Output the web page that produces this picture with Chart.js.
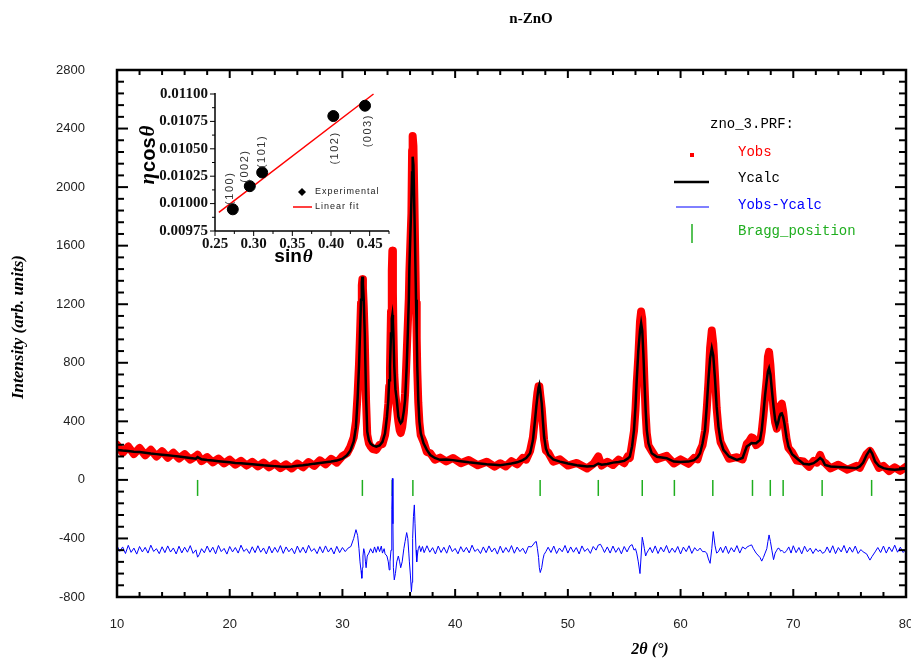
<!DOCTYPE html>
<html><head><meta charset="utf-8">
<script src="https://cdn.jsdelivr.net/npm/chart.js@4.4.0/dist/chart.umd.min.js"></script>
<style>
html,body{margin:0;padding:0;background:#fff;}
#wrap{position:relative;width:911px;height:659px;overflow:hidden;}
#main{position:absolute;left:0;top:0;}
#inset{position:absolute;left:130px;top:84px;}
</style></head><body>
<div id="wrap"><canvas id="main" width="911" height="659"></canvas><canvas id="inset" width="270" height="186"></canvas></div>
<script>
// ---------- main pattern data ----------
const twoTheta = [10,10.5,11,11.5,12,12.5,13,13.5,14,14.5,15,15.5,16,16.5,17,17.15,17.5,18,18.5,19,19.5,20,20.5,21,21.5,22,22.5,23,23.5,24,24.5,25,25.5,26,26.5,27,27.5,28,28.5,29,29.5,30,30.4,30.7,31.0,31.2,31.35,31.47,31.56,31.65,31.72,31.77,31.82,31.89,31.98,32.04,32.1,32.2,32.35,32.5,32.7,33.0,33.3,33.55,33.78,33.95,34.07,34.15,34.22,34.31,34.38,34.43,34.48,34.52,34.6,34.7,34.82,34.96,35.08,35.17,35.3,35.45,35.56,35.7,35.8,35.89,35.94,36.03,36.12,36.18,36.23,36.3,36.38,36.44,36.53,36.59,36.64,36.73,36.83,36.95,37.2,37.49,37.8,38.2,38.66,39.2,39.8,40.5,41.2,42,42.8,43.5,44,44.5,45,45.5,46,46.3,46.65,46.9,47.09,47.2,47.3,47.4,47.47,47.55,47.68,47.8,47.89,48.05,48.27,48.7,49.3,50,50.8,51.7,52.3,52.7,53.0,53.5,54,54.5,55,55.3,55.5,55.7,55.87,56.0,56.11,56.25,56.4,56.5,56.6,56.7,56.79,56.9,57.0,57.15,57.44,57.9,58.77,59.4,60,60.7,61.2,61.5,61.73,61.95,62.17,62.32,62.47,62.62,62.77,62.9,63.06,63.2,63.36,63.55,63.8,64.3,64.99,65.5,65.87,66.1,66.3,66.46,66.7,67.05,67.2,67.35,67.5,67.65,67.75,67.85,67.97,68.1,68.25,68.39,68.54,68.65,68.77,68.88,68.98,69.1,69.21,69.4,69.57,69.9,70.3,70.9,71.4,71.8,72.1,72.38,72.6,72.82,73.3,74,74.8,75.6,75.9,76.2,76.5,76.8,77.0,77.26,77.6,78.0,78.5,79,79.5,80];
const yObs = [240,185,228,176,218,168,206,160,196,152,186,146,176,138,162,172,128,156,120,146,112,138,104,130,98,124,92,118,86,112,80,106,78,112,86,122,96,134,106,144,118,162,182,225,290,400,590,790,990,1210,1330,1370,1310,1190,970,750,530,310,250,228,210,205,240,245,305,410,520,640,760,1150,1430,1565,1280,1030,720,580,500,400,340,320,360,460,590,860,1060,1240,1420,1620,1820,2250,2350,2280,1930,1640,1210,970,750,530,390,305,260,190,182,138,152,126,150,114,136,100,124,90,114,92,128,106,150,138,198,290,430,525,595,640,640,580,490,365,275,200,185,125,140,98,116,78,112,160,98,124,102,138,114,160,150,248,335,480,660,840,1080,1150,1100,885,680,455,320,235,198,142,164,112,140,110,150,140,200,238,335,480,665,900,1020,930,705,490,350,258,220,144,155,140,245,265,290,285,238,260,330,440,570,695,840,875,785,630,480,392,350,398,460,510,520,468,390,280,218,188,132,126,90,130,118,170,128,116,78,104,70,96,82,130,176,198,172,133,82,96,60,86,62,90];
const yCalc = [205,200,197,193,190,186,180,176,172,168,164,160,155,150,145,156,141,136,132,128,124,120,116,113,110,107,104,100,97,94,91,90,92,96,100,105,111,116,121,126,132,145,168,200,262,360,560,775,1000,1230,1350,1389,1340,1230,1000,780,560,330,270,248,235,227,235,260,318,430,546,680,775,1000,1100,1127,1080,1000,775,620,546,432,400,387,400,470,546,775,1000,1230,1450,1685,1913,2100,2208,2150,1850,1619,1230,1000,775,546,400,318,250,205,170,150,137,140,135,128,120,113,107,103,100,106,112,120,135,150,182,270,410,500,569,630,649,610,523,390,296,215,171,140,125,112,100,91,95,112,104,108,118,122,130,145,159,230,342,500,683,880,1020,1070,1020,860,683,480,342,250,182,158,148,125,122,125,135,155,182,250,342,500,683,830,899,850,683,500,364,270,205,160,137,150,228,240,252,250,250,273,340,455,580,683,740,763,720,615,500,410,364,390,432,452,455,430,387,290,228,175,148,110,105,114,130,150,135,102,92,88,84,80,92,118,170,205,180,125,95,80,72,70,72,78];
const diffTheta = [10,10.25,10.5,10.75,11,11.25,11.5,11.75,12,12.25,12.5,12.75,13,13.25,13.5,13.75,14,14.25,14.5,14.75,15,15.25,15.5,15.75,16,16.25,16.5,16.75,17,17.15,17.3,17.5,17.75,18,18.25,18.5,18.75,19,19.25,19.5,19.75,20,20.25,20.5,20.75,21,21.25,21.5,21.75,22,22.25,22.5,22.75,23,23.25,23.5,23.75,24,24.25,24.5,24.75,25,25.25,25.5,25.75,26,26.25,26.5,26.75,27,27.25,27.5,27.75,28,28.25,28.5,28.75,29,29.25,29.5,29.75,30,30.25,30.5,30.75,31.0,31.2,31.35,31.47,31.56,31.65,31.72,31.77,31.82,31.89,31.98,32.04,32.1,32.2,32.35,32.5,32.7,32.85,33.0,33.15,33.3,33.45,33.55,33.7,33.78,33.95,34.07,34.15,34.22,34.31,34.38,34.43,34.48,34.52,34.6,34.7,34.82,34.96,35.08,35.17,35.3,35.45,35.56,35.7,35.8,35.89,35.94,36.03,36.12,36.18,36.23,36.3,36.38,36.44,36.53,36.59,36.64,36.73,36.83,36.95,37.1,37.25,37.5,37.75,38,38.25,38.5,38.75,39,39.25,39.5,39.75,40,40.25,40.5,40.75,41,41.25,41.5,41.75,42,42.25,42.5,42.75,43,43.25,43.5,43.75,44,44.25,44.5,44.75,45,45.25,45.5,45.75,46,46.25,46.5,46.75,46.9,47.09,47.2,47.3,47.4,47.47,47.55,47.68,47.8,47.89,48.05,48.25,48.5,48.75,49,49.25,49.5,49.75,50,50.25,50.5,50.75,51,51.25,51.5,51.75,52,52.25,52.5,52.7,52.9,53.1,53.25,53.5,53.75,54,54.25,54.5,54.75,55,55.25,55.5,55.7,55.87,56.0,56.11,56.25,56.4,56.5,56.6,56.7,56.79,56.9,57.0,57.15,57.3,57.5,57.75,58,58.25,58.5,58.75,59,59.25,59.5,59.75,60,60.25,60.5,60.75,61,61.25,61.5,61.73,61.95,62.17,62.32,62.47,62.62,62.77,62.9,63.06,63.2,63.36,63.55,63.75,64,64.25,64.5,64.75,65,65.25,65.5,65.75,65.87,66.1,66.3,66.46,66.7,67.05,67.2,67.35,67.5,67.65,67.75,67.85,67.97,68.1,68.25,68.39,68.54,68.65,68.77,68.88,68.98,69.1,69.21,69.4,69.6,69.8,70,70.25,70.5,70.75,71,71.25,71.5,71.75,72,72.2,72.38,72.6,72.82,73,73.25,73.5,73.75,74,74.25,74.5,74.75,75,75.25,75.5,75.75,76,76.2,76.5,76.8,77.0,77.26,77.5,77.75,78,78.25,78.5,78.75,79,79.25,79.5,79.75,80];
const yDiff = [-450,-488,-458,-503,-447,-495,-466,-507,-455,-492,-461,-500,-446,-489,-470,-504,-457,-497,-451,-493,-465,-506,-453,-499,-460,-494,-449,-502,
-478,-528,-510,-470,
-498,-452,-494,-460,-505,-448,-490,-468,-507,-455,-492,-462,-500,-446,-489,-471,-503,-457,-497,-450,-494,-465,-506,-453,-499,-461,-495,-449,-502,-458,-491,-467,-505,-452,-496,-460,-500,-447,-488,-469,-504,-456,-498,-451,-493,-464,-506,-454,-497,-462,-490,-466,
-455,
-400,-340,-380,-470,-560,-620,-672,-600,-520,-470,-500,-560,-600,-520,-500,-470,
-500,-458,-495,-455,-490,-452,-500,-470,-505,
-520,-560,-615,-560,-480,-200,10,-300,-600,-683,-640,-560,-520,-560,-600,-560,-470,-420,-360,-400,-500,-560,-650,-764,-700,-400,-250,-171,-300,-480,-560,-520,-470,-450,-490,
-455,-497,-450,-494,-463,-506,-452,-496,-460,-501,-447,-490,-468,-505,-456,-493,-461,-499,-446,-489,-472,-503,-458,-497,-451,-492,-465,-507,-453,-498,-462,-494,-449,-501,-459,-490,-467,-504,-455,
-458,-445,
-425,-421,-470,-530,-600,-633,-600,-540,-510,-490,
-460,-496,-452,-503,-466,-491,-448,-500,-458,-494,-462,-506,-451,-489,-469,-502,-455,-480,
-445,-440,-470,-496,
-458,-500,-452,-495,-463,-505,-455,-492,
-452,-442,
-480,-470,-500,-560,-640,-520,-392,-430,-470,-520,-500,-480,
-462,-498,-451,-503,-460,-492,-448,-500,-466,-495,-455,-506,-459,-490,-450,-502,-463,-486,
-466,-490,
-490,-500,-540,-570,-470,-353,-450,-500,-490,
-460,-497,-452,-503,-463,-492,-449,-500,-458,-472,
-460,-450,-444,-470,-500,-530,-555,-530,-500,-470,-420,-376,-420,-480,-545,-500,-480,-466,-470,-488,-480,-490,-500,
-484,-458,-500,-450,-497,-462,-505,-453,-491,-466,-503,-470,
-490,-478,-502,-490,
-458,-498,-450,-504,-462,-492,-448,-500,-460,-494,-452,-503,-476,
-492,-505,-548,-522,-492,
-462,-496,-452,-500,-458,-490,-446,-494,-460,-496,-474];
const braggPos = [17.15,31.77,34.42,36.25,47.54,52.7,56.6,59.45,62.86,66.38,67.96,69.1,72.56,76.95];
const braggLevel = -55;
const xTickValues = [10,20,30,40,50,60,70,80];
const yTickValues = [-800,-400,0,400,800,1200,1600,2000,2400,2800];
const legendNames = ['Yobs','Ycalc','Yobs-Ycalc','Bragg_position'];

// ---------- inset (Williamson-Hall) data ----------
const sinTheta = [0.273,0.295,0.311,0.403,0.444];
const etaCosTheta = [0.009948,0.010159,0.010284,0.010799,0.010893];
const hklLabels = ['(100)','(002)','(101)','(102)','(003)'];
const fitSin = [0.255,0.455];
const fitEta = [0.00992,0.01100];
const insetXTickValues = [0.25,0.30,0.35,0.40,0.45];
const insetYTickValues = [0.00975,0.01000,0.01025,0.01050,0.01075,0.01100];

const serif = '"Liberation Serif", "Times New Roman", serif';
const sans = '"Liberation Sans", Arial, sans-serif';
const mono = '"Liberation Mono", "Courier New", monospace';

function ln(ctx,x1,y1,x2,y2){ctx.beginPath();ctx.moveTo(x1,y1);ctx.lineTo(x2,y2);ctx.stroke();}

const framePlugin = {
  id:'frame',
  afterDraw(chart){
    const {ctx, chartArea:a, scales:{x,y}} = chart;
    ctx.save();
    ctx.strokeStyle='#000'; ctx.lineWidth=2.5;
    ctx.strokeRect(a.left,a.top,a.right-a.left,a.bottom-a.top);
    ctx.lineWidth=2;
    for(let v=10; v<=80; v+=2){
      const px=x.getPixelForValue(v); const L=(v%10===0)?8:5;
      ln(ctx,px,a.bottom,px,a.bottom-L); ln(ctx,px,a.top,px,a.top+L);
    }
    for(let v=-800; v<=2800; v+=80){
      const py=y.getPixelForValue(v); const L=(v%400===0)?11:7;
      ln(ctx,a.left,py,a.left+L,py); ln(ctx,a.right,py,a.right-L,py);
    }
    ctx.fillStyle='#000'; ctx.textAlign='center'; ctx.textBaseline='middle';
    ctx.font='bold 15px '+serif; ctx.fillText('n-ZnO',531,19);
    ctx.font='italic bold 16px '+serif; ctx.fillText('2\u03B8 (\u00B0)',650,650);
    ctx.save(); ctx.translate(19,327); ctx.rotate(-Math.PI/2);
    ctx.font='italic bold 17px '+serif; ctx.fillText('Intensity (arb. units)',0,0); ctx.restore();
    ctx.textAlign='left';
    ctx.font='14px '+mono; ctx.fillStyle='#000'; ctx.fillText('zno_3.PRF:',710,124);
    ctx.fillStyle='#ff0000'; ctx.fillRect(690,153,4,4); ctx.fillText(legendNames[0],738,152);
    ctx.fillStyle='#000'; ctx.lineWidth=2.5; ctx.strokeStyle='#000'; ln(ctx,674,182,709,182); ctx.fillText(legendNames[1],738,178);
    ctx.fillStyle='#0000ff'; ctx.lineWidth=1; ctx.strokeStyle='#0000ff'; ln(ctx,676,207,709,207); ctx.fillText(legendNames[2],738,205);
    ctx.fillStyle='#1fae1f'; ctx.lineWidth=1.5; ctx.strokeStyle='#1fae1f'; ln(ctx,692,224,692,243); ctx.fillText(legendNames[3],738,231);
    ctx.restore();
  }
};

new Chart(document.getElementById('main'), {
  type:'line',
  data:{datasets:[
    {label:'Ycalc', data:twoTheta.map((x,i)=>({x,y:yCalc[i]})), borderColor:'#000', borderWidth:2.5, pointRadius:0, order:0},
    {label:'Yobs-Ycalc', data:diffTheta.map((x,i)=>({x,y:yDiff[i]})), borderColor:'#0000ff', borderWidth:1, pointRadius:0, order:1},
    {label:'Bragg_position', type:'scatter', data:braggPos.map(x=>({x,y:braggLevel})), pointStyle:'line', pointRotation:90, rotation:90, pointRadius:8, borderColor:'#1fae1f', pointBorderColor:'#1fae1f', borderWidth:1.5, pointBorderWidth:1.5, order:1},
    {label:'Yobs', data:twoTheta.map((x,i)=>({x,y:yObs[i]})), borderColor:'#ff0000', borderWidth:8, borderJoinStyle:'round', borderCapStyle:'round', pointRadius:0, order:2}
  ]},
  options:{
    responsive:false, animation:false, devicePixelRatio:1,
    layout:{autoPadding:false, padding:{left:0,right:5,top:70,bottom:0}},
    plugins:{legend:{display:false}, tooltip:{enabled:false}, title:{display:false}},
    scales:{
      x:{type:'linear', min:10, max:80, grid:{display:false, drawTicks:false}, border:{display:false},
        afterBuildTicks:s=>{s.ticks=xTickValues.map(v=>({value:v}));},
        afterFit:s=>{s.height=62; s.paddingLeft=0; s.paddingRight=0;},
        ticks:{padding:20, color:'#222', font:{family:sans,size:13}, maxRotation:0, autoSkip:false, callback:v=>String(v)}},
      y:{type:'linear', min:-800, max:2800, grid:{display:false, drawTicks:false}, border:{display:false},
        afterBuildTicks:s=>{s.ticks=yTickValues.map(v=>({value:v}));},
        afterFit:s=>{s.width=117; s.paddingTop=0; s.paddingBottom=0;},
        ticks:{padding:32, color:'#222', font:{family:sans,size:13}, autoSkip:false, callback:v=>String(v)}}
    }
  },
  plugins:[framePlugin]
});

// ---------- inset ----------
const hklOffsets = [[-3,-21],[-5,-20],[0,-21],[2,32],[3,25]];
const insetPlugin = {
  id:'insetDeco',
  afterDraw(chart){
    const {ctx, chartArea:a, scales:{x,y}} = chart;
    ctx.save();
    ctx.strokeStyle='#000'; ctx.lineWidth=1.5;
    ln(ctx,a.left,a.top-1,a.left,a.bottom); ln(ctx,a.left,a.bottom,a.right,a.bottom);
    ctx.lineWidth=1;
    for(let i=0;i<=9;i++){ const v=0.25+i*0.025; const px=x.getPixelForValue(v); ln(ctx,px,a.bottom,px,a.bottom+(i%2===0?5:3)); }
    for(let i=0;i<=10;i++){ const v=0.00975+i*0.000125; const py=y.getPixelForValue(v); ln(ctx,a.left,py,a.left-(i%2===0?5:3),py); }
    ctx.fillStyle='#333'; ctx.font='11px '+sans; ctx.textAlign='center'; ctx.textBaseline='middle';
    try{ctx.letterSpacing='1.5px';}catch(e){}
    hklLabels.forEach((t,i)=>{
      const px=x.getPixelForValue(sinTheta[i])+hklOffsets[i][0];
      const py=y.getPixelForValue(etaCosTheta[i])+hklOffsets[i][1];
      ctx.save(); ctx.translate(px,py); ctx.rotate(-Math.PI/2); ctx.fillText(t,0,0); ctx.restore();
    });
    try{ctx.letterSpacing='1px';}catch(e){}
    ctx.font='9px '+sans; ctx.textAlign='left'; ctx.fillStyle='#222';
    ctx.fillText('Experimental',185,108); ctx.fillText('Linear fit',185,123);
    ctx.fillStyle='#000'; ctx.beginPath(); ctx.moveTo(172,104); ctx.lineTo(176,108); ctx.lineTo(172,112); ctx.lineTo(168,108); ctx.closePath(); ctx.fill();
    ctx.strokeStyle='#ff0000'; ctx.lineWidth=1.5; ln(ctx,163,123,182,123);
    try{ctx.letterSpacing='0px';}catch(e){}
    ctx.fillStyle='#000'; ctx.textBaseline='middle';
    ctx.save(); ctx.translate(19,72); ctx.rotate(-Math.PI/2);
    ctx.font='italic bold 21px '+serif; const w1=ctx.measureText('\u03B7').width;
    ctx.font='bold 20px '+sans; const w2=ctx.measureText('cos').width;
    ctx.font='italic bold 21px '+serif; const w3=ctx.measureText('\u03B8').width;
    let sx=-(w1+w2+w3)/2; ctx.textAlign='left';
    ctx.fillText('\u03B7',sx,0); ctx.font='bold 20px '+sans; ctx.fillText('cos',sx+w1+1,0);
    ctx.font='italic bold 21px '+serif; ctx.fillText('\u03B8',sx+w1+w2+2,0);
    ctx.restore();
    ctx.font='bold 19px '+sans; const s1=ctx.measureText('sin').width;
    ctx.font='italic bold 19px '+serif; const s2=ctx.measureText('\u03B8').width;
    let tx=163-(s1+s2)/2; ctx.textAlign='left';
    ctx.font='bold 19px '+sans; ctx.fillText('sin',tx,173);
    ctx.font='italic bold 19px '+serif; ctx.fillText('\u03B8',tx+s1+1,173);
    ctx.restore();
  }
};

new Chart(document.getElementById('inset'), {
  type:'scatter',
  data:{datasets:[
    {label:'Experimental', data:sinTheta.map((x,i)=>({x,y:etaCosTheta[i]})), pointRadius:5.5, pointBackgroundColor:'#000', pointBorderColor:'#000', order:0},
    {label:'Linear fit', type:'line', data:fitSin.map((x,i)=>({x,y:fitEta[i]})), borderColor:'#ff0000', borderWidth:1.5, pointRadius:0, order:1, clip:false}
  ]},
  options:{
    responsive:false, animation:false, devicePixelRatio:1,
    layout:{autoPadding:false, padding:{left:0,right:11,top:10,bottom:0}},
    plugins:{legend:{display:false}, tooltip:{enabled:false}},
    scales:{
      x:{type:'linear', min:0.25, max:0.475, grid:{display:false, drawTicks:false}, border:{display:false},
        afterBuildTicks:s=>{s.ticks=insetXTickValues.map(v=>({value:v}));},
        afterFit:s=>{s.height=39; s.paddingLeft=0; s.paddingRight=0;},
        ticks:{padding:4, color:'#111', font:{family:serif,size:15,weight:'bold'}, maxRotation:0, autoSkip:false, callback:v=>v.toFixed(2)}},
      y:{type:'linear', min:0.00975, max:0.011, grid:{display:false, drawTicks:false}, border:{display:false},
        afterBuildTicks:s=>{s.ticks=insetYTickValues.map(v=>({value:v}));},
        afterFit:s=>{s.width=85; s.paddingTop=0; s.paddingBottom=0;},
        ticks:{padding:7, color:'#111', font:{family:serif,size:15,weight:'bold'}, autoSkip:false, callback:v=>v.toFixed(5)}}
    }
  },
  plugins:[insetPlugin]
});
</script>
</body></html>
